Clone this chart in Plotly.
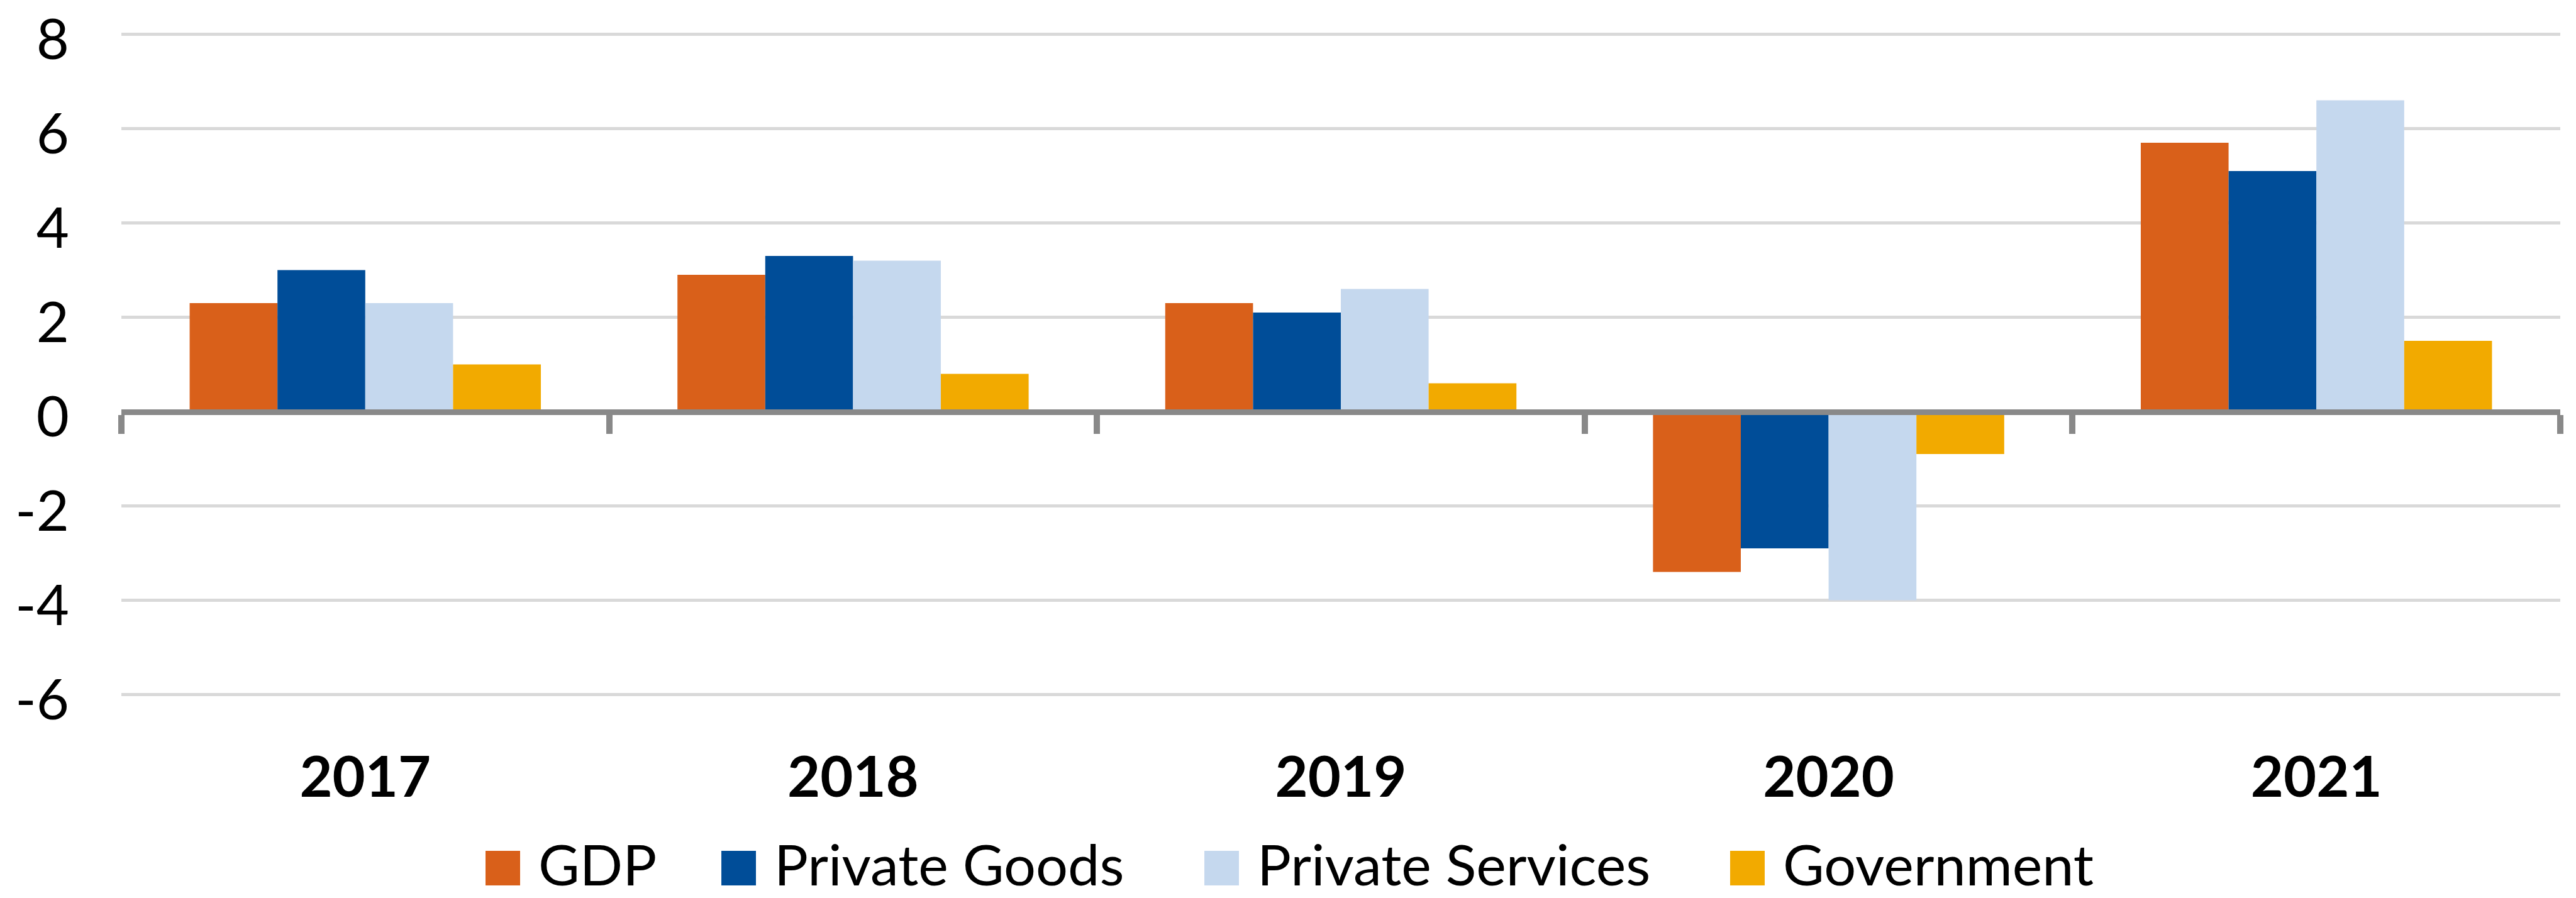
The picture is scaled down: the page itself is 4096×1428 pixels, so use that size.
import plotly.graph_objects as go

# ---- data -------------------------------------------------------------
years = ["2017", "2018", "2019", "2020", "2021"]
gdp = [2.3, 2.9, 2.3, -3.4, 5.7]
private_goods = [3.0, 3.3, 2.1, -2.9, 5.1]
private_services = [2.3, 3.2, 2.6, -4.0, 6.6]
government = [1.0, 0.8, 0.6, -0.9, 1.5]
series_names = ["GDP", "Private Goods", "Private Services", "Government"]
y_ticks = [-6, -4, -2, 0, 2, 4, 6, 8]

# ---- style ------------------------------------------------------------
colors = ["#D9601A", "#004D98", "#C5D8EE", "#F2AA00"]
W, H = 4096, 1428
L, R, T, B = 193, 25, 53, 322
PLOT_W, PLOT_H = W - L - R, H - T - B
Y_MIN, Y_MAX = -6, 8
Y_PAD = 0.02          # keeps the end gridlines from being clipped at the plot edge
FONT = "Lato, 'Liberation Sans', sans-serif"
FONT_SIZE = 90
AXIS_GREY = "#898989"
GRID_GREY = "#D9D9D9"


def px_x(px):
    """Canvas pixel column -> paper x."""
    return (px - L) / PLOT_W


def px_y(py):
    """Canvas pixel row -> paper y."""
    return (H - B - py) / PLOT_H


fig = go.Figure()

series = [gdp, private_goods, private_services, government]
for name, vals, col in zip(series_names, series, colors):
    fig.add_bar(
        x=years, y=vals, name=name,
        marker=dict(color=col, line=dict(width=0)),
        showlegend=False,
    )

# transparent companion trace so the category axis drawn at y = 0 knows its categories
fig.add_scatter(
    x=years, y=[0] * len(years), xaxis="x2", yaxis="y",
    mode="markers", marker=dict(opacity=0), hoverinfo="skip", showlegend=False,
)

y_lo, y_hi = Y_MIN - Y_PAD, Y_MAX + Y_PAD
zero_pos = (0 - y_lo) / (y_hi - y_lo)

fig.update_layout(
    width=W, height=H,
    margin=dict(l=L, r=R, t=T, b=B, pad=0, autoexpand=False),
    paper_bgcolor="white", plot_bgcolor="white",
    barmode="group", bargap=0.28, bargroupgap=0,
    xaxis=dict(
        type="category", range=[-0.5, len(years) - 0.5], automargin=False,
        showline=False, ticks="", showgrid=False, zeroline=False,
        tickfont=dict(family=FONT, size=FONT_SIZE, color="black", weight="bold"),
        ticklabelstandoff=70,
    ),
    xaxis2=dict(
        type="category", overlaying="x", anchor="free", position=zero_pos,
        side="bottom", range=[-0.5, len(years) - 0.5], automargin=False,
        showline=True, linecolor=AXIS_GREY, linewidth=9,
        ticks="outside", tickson="boundaries", ticklen=30, tickwidth=10,
        tickcolor=AXIS_GREY, showticklabels=False, showgrid=False, zeroline=False,
    ),
    yaxis=dict(
        range=[y_lo, y_hi], tickmode="array", tickvals=y_ticks,
        ticktext=[str(v) for v in y_ticks], automargin=False,
        showgrid=True, gridcolor=GRID_GREY, gridwidth=5,
        zeroline=False, showline=False, ticks="",
        tickfont=dict(family=FONT, size=FONT_SIZE, color="black"),
        ticklabelstandoff=82, ticklabelshift=8, ticklabeloverflow="allow",
    ),
)

# legend: colour keys with their labels underneath the plot
key_left = [772, 1147, 1915, 2751]
KEY = 55
KEY_TOP = 1353
for name, col, x0 in zip(series_names, colors, key_left):
    fig.add_shape(
        type="rect", xref="paper", yref="paper",
        x0=px_x(x0), x1=px_x(x0 + KEY), y0=px_y(KEY_TOP + KEY), y1=px_y(KEY_TOP),
        fillcolor=col, line=dict(width=0), layer="above",
    )
    fig.add_annotation(
        text=name, xref="paper", yref="paper",
        x=px_x(x0 + KEY + 27), y=px_y(1373),
        xanchor="left", yanchor="middle", showarrow=False,
        font=dict(family=FONT, size=FONT_SIZE, color="black"),
    )

fig.write_html("out.html")
